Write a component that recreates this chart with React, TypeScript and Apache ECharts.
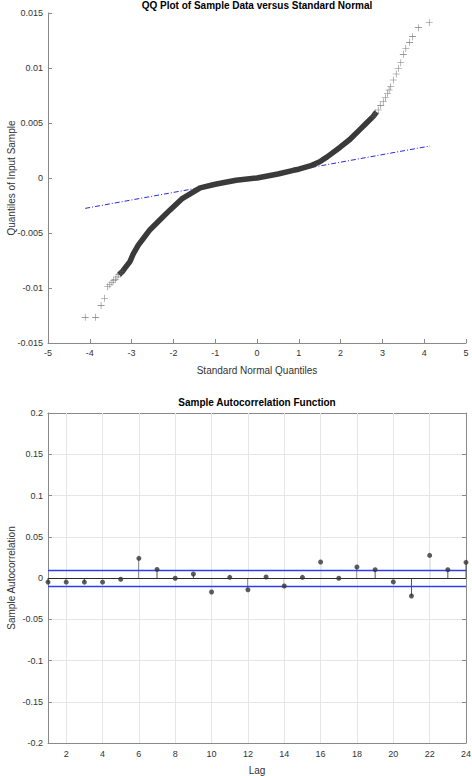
import React, { useEffect, useRef } from "react";
import * as echarts from "echarts";

// ---- QQ plot data ----
const qqBandX = [-3.3, -3.22, -3.16, -3.04, -2.96, -2.84, -2.72, -2.56, -2.32, -2.08, -1.8, -1.36, -1.0, -0.5, 0.0, 0.5, 0.87, 1.0, 1.27, 1.5, 1.67, 1.99, 2.22, 2.46, 2.62, 2.78, 2.86];
const qqBandY = [-0.0088, -0.0085, -0.0082, -0.0076, -0.0069, -0.0061, -0.0055, -0.0047, -0.0038, -0.0029, -0.0019, -0.0009, -0.00057, -0.0002, 0.0, 0.00036, 0.0007, 0.0008, 0.0011, 0.00148, 0.0019, 0.0028, 0.0035, 0.0044, 0.005, 0.0056, 0.006];
const qqTailX = [-4.11, -3.86, -3.73, -3.65, -3.57, -3.52, -3.47, -3.43, -3.39, -3.35, -3.31, -3.27, -3.22, 2.78, 2.84, 2.9, 2.96, 3.02, 3.07, 3.12, 3.16, 3.2, 3.26, 3.33, 3.38, 3.44, 3.5, 3.56, 3.65, 3.72, 3.86, 4.12];
const qqTailY = [-0.01267, -0.01267, -0.0116, -0.01094, -0.00988, -0.0097, -0.0095, -0.0093, -0.0092, -0.009, -0.0088, -0.0087, -0.0085, 0.00557, 0.0059, 0.00618, 0.0066, 0.00694, 0.0073, 0.0077, 0.008, 0.0083, 0.00891, 0.00945, 0.00997, 0.01048, 0.01124, 0.01179, 0.01233, 0.01285, 0.01367, 0.01412];
const refLineX = [-4.11, 4.14];
const refLineY = [-0.00276, 0.00291];

// ---- Autocorrelation data ----
const lags = [1, 2, 3, 4, 5, 6, 7, 8, 9, 10, 11, 12, 13, 14, 15, 16, 17, 18, 19, 20, 21, 22, 23, 24];
const acf = [-0.005, -0.005, -0.005, -0.005, -0.0015, 0.0238, 0.0104, -0.0003, 0.0048, -0.017, 0.0008, -0.0142, 0.0012, -0.0097, 0.0008, 0.0194, -0.0003, 0.0133, 0.0101, -0.0048, -0.0218, 0.0274, 0.0101, 0.019];
const confBound = 0.013;
const lagTicks = [2, 4, 6, 8, 10, 12, 14, 16, 18, 20, 22, 24];

const FONT = '"Liberation Sans", Arial, Helvetica, sans-serif';
const AXIS_COLOR = "#8a8a8a";
const LABEL_COLOR = "#333333";

const fmt = (v: number) => String(parseFloat(v.toFixed(4)));

export default function App() {
  const ref = useRef<HTMLDivElement>(null);
  useEffect(() => {
    if (!ref.current) return;
    const chart = echarts.init(ref.current, undefined, { renderer: "svg" });
    const plusSymbol = "path://M0,4.6L10,4.6L10,5.4L0,5.4Z M4.6,0L5.4,0L5.4,10L4.6,10Z";

    const tickStyle = { show: true, inside: true, length: 4, lineStyle: { color: AXIS_COLOR } };
    const lineStyle = { show: true, onZero: false, lineStyle: { color: AXIS_COLOR, width: 1 } };
    const labelStyle = { color: LABEL_COLOR, fontSize: 9, fontFamily: FONT, margin: 5 };
    const nameStyle = { color: LABEL_COLOR, fontSize: 10, fontFamily: FONT };

    const option: any = {
      animation: false,
      textStyle: { fontFamily: FONT },
      grid: [
        { left: 48, right: 6, top: 13, height: 330, containLabel: false, outerBoundsMode: "none" },
        { left: 48, right: 6, top: 413, height: 330, containLabel: false, outerBoundsMode: "none" },
      ],
      graphic: [
        {
          type: "text",
          x: 257,
          y: 5,
          style: { text: "QQ Plot of Sample Data versus Standard Normal", fontSize: 10, fontWeight: "bold", fontFamily: FONT, fill: "#000", align: "center", verticalAlign: "middle" },
        },
        {
          type: "text",
          x: 257,
          y: 402,
          style: { text: "Sample Autocorrelation Function", fontSize: 10, fontWeight: "bold", fontFamily: FONT, fill: "#000", align: "center", verticalAlign: "middle" },
        },
      ],
      xAxis: [
        {
          gridIndex: 0, type: "value", min: -5, max: 5, interval: 1,
          axisLine: lineStyle, axisTick: tickStyle, splitLine: { show: false },
          axisLabel: labelStyle,
          name: "Standard Normal Quantiles", nameLocation: "middle", nameGap: 22, nameMoveOverlap: false, nameTextStyle: nameStyle,
        },
        {
          gridIndex: 1, type: "value", min: 1, max: 24,
          axisLine: lineStyle,
          axisTick: { ...tickStyle, customValues: lagTicks },
          splitLine: { show: false },
          axisLabel: { ...labelStyle, customValues: lagTicks, margin: 6 },
          name: "Lag", nameLocation: "middle", nameGap: 22, nameMoveOverlap: false, nameTextStyle: nameStyle,
        },
        {
          gridIndex: 1, type: "value", min: 1, max: 24, position: "top",
          axisLine: lineStyle,
          axisTick: { ...tickStyle, customValues: lagTicks },
          splitLine: { show: false },
          axisLabel: { show: false },
        },
      ],
      yAxis: [
        {
          gridIndex: 0, type: "value", min: -0.015, max: 0.015, interval: 0.005,
          axisLine: lineStyle, axisTick: tickStyle, splitLine: { show: false },
          axisLabel: { ...labelStyle, formatter: fmt },
          name: "Quantiles of Input Sample", nameLocation: "middle", nameGap: 32, nameMoveOverlap: false, nameTextStyle: nameStyle,
        },
        {
          gridIndex: 1, type: "value", min: -0.2, max: 0.2, interval: 0.05,
          axisLine: lineStyle, axisTick: tickStyle,
          splitLine: { show: true, lineStyle: { color: "#e6e6e6", width: 1 } },
          axisLabel: { ...labelStyle, formatter: fmt },
          name: "Sample Autocorrelation", nameLocation: "middle", nameGap: 32, nameMoveOverlap: false, nameTextStyle: nameStyle,
        },
        {
          gridIndex: 1, type: "value", min: -0.2, max: 0.2, interval: 0.05, position: "right",
          axisLine: lineStyle, axisTick: tickStyle, splitLine: { show: false },
          axisLabel: { show: false },
        },
      ],
      series: [
        {
          type: "line", xAxisIndex: 0, yAxisIndex: 0, z: 1,
          data: refLineX.map((x, i) => [x, refLineY[i]]),
          showSymbol: false, symbol: "none",
          lineStyle: { color: "#2a2ad8", width: 1, type: [5, 2, 1, 2] },
        },
        {
          type: "line", xAxisIndex: 0, yAxisIndex: 0, z: 2,
          data: qqBandX.map((x, i) => [x, qqBandY[i]]),
          showSymbol: false, symbol: "none",
          lineStyle: { color: "#3a3a3a", width: 5.5, cap: "butt", join: "round" },
        },
        {
          type: "scatter", xAxisIndex: 0, yAxisIndex: 0, z: 3,
          data: qqTailX.map((x, i) => [x, qqTailY[i]]),
          symbol: plusSymbol, symbolSize: 7,
          itemStyle: { color: "#5a5a5a" },
        },
        // vertical grid lines for the ACF panel
        {
          type: "line", xAxisIndex: 1, yAxisIndex: 1, z: 1,
          data: lags.map((l, i) => [l, acf[i]]),
          showSymbol: false, symbol: "none",
          lineStyle: { opacity: 0 },
          markLine: {
            silent: true, symbol: ["none", "none"], label: { show: false },
            lineStyle: { color: "#e6e6e6", type: "solid", width: 1 },
            data: lagTicks.filter((t) => t < 24).map((t) => ({ xAxis: t })),
          },
        },
        // stems
        {
          type: "custom", xAxisIndex: 1, yAxisIndex: 1, z: 3, clip: false,
          data: lags.map((l, i) => [l, acf[i]]),
          encode: { x: 0, y: 1 },
          renderItem: (params: any, api: any) => {
            const x = api.value(0);
            const y = api.value(1);
            const p0 = api.coord([x, 0]);
            const p1 = api.coord([x, y]);
            return {
              type: "line",
              shape: { x1: p0[0], y1: p0[1], x2: p1[0], y2: p1[1] },
              style: { stroke: "#555555", lineWidth: 1 },
            };
          },
          markLine: {
            silent: true, symbol: ["none", "none"], label: { show: false },
            data: [
              { yAxis: 0, lineStyle: { color: "#2a2a2a", type: "solid", width: 1 } },
              { yAxis: confBound, lineStyle: { color: "#2f3cf0", type: "solid", width: 1.3 } },
              { yAxis: -confBound, lineStyle: { color: "#2f3cf0", type: "solid", width: 1.3 } },
            ],
          },
        },
        {
          type: "scatter", xAxisIndex: 1, yAxisIndex: 1, z: 5, clip: false,
          data: lags.map((l, i) => [l, acf[i]]),
          symbol: "circle", symbolSize: 5,
          itemStyle: { color: "#333333" },
        },
      ],
    };
    chart.setOption(option);
    return () => chart.dispose();
  }, []);
  return <div ref={ref} style={{ position: "absolute", left: 0, top: 0, width: 472, height: 776 }} />;
}
